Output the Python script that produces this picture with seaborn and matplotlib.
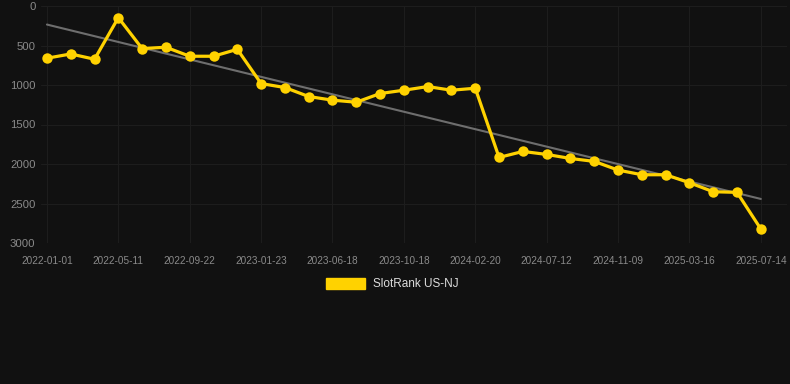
import numpy as np
import pandas as pd
import seaborn as sns
import matplotlib.pyplot as plt
from matplotlib.patches import Patch

# rank values (lower on chart = larger rank)
ranks = [661, 607, 674, 147, 539, 522, 636, 636, 548, 982,
         1032, 1146, 1192, 1218, 1108, 1066, 1020, 1066, 1041, 1917,
         1841, 1879, 1930, 1967, 2077, 2136, 2136, 2237, 2351, 2359,
         2823]
tick_labels = ['2022-01-01', '2022-05-11', '2022-09-22', '2023-01-23', '2023-06-18',
               '2023-10-18', '2024-02-20', '2024-07-12', '2024-11-09', '2025-03-16',
               '2025-07-14']
series_name = 'SlotRank US-NJ'

df = pd.DataFrame({'idx': np.arange(len(ranks)), 'rank': ranks})

sns.set_style('dark')
plt.rcParams['font.family'] = ['Liberation Sans', 'DejaVu Sans']

bg = '#111111'
gold = '#ffd200'

fig = plt.figure(figsize=(7.9, 3.84), dpi=100, facecolor=bg)
ax = fig.add_axes([41 / 790, 1 - 243 / 384, 746 / 790, 237 / 384])
ax.set_facecolor(bg)

# trend line
k, b = np.polyfit(df['idx'], df['rank'], 1)
ax.plot(df['idx'], k * df['idx'] + b, color='#6e6e6e', lw=1.5, zorder=2)

sns.lineplot(data=df, x='idx', y='rank', ax=ax, color=gold, lw=2.3,
             marker='o', markersize=7.5, markeredgewidth=0, zorder=3)

ax.set_ylim(3000, 0)
ax.set_xlim(-0.25, 31.1)
ax.set_yticks([0, 500, 1000, 1500, 2000, 2500, 3000])
ax.set_xticks(np.arange(0, len(ranks), 3))
ax.set_xticklabels(tick_labels)
ax.tick_params(axis='y', labelsize=8.2, colors='#8a8a8a', length=0, pad=4)
ax.tick_params(axis='x', labelsize=7.2, colors='#8a8a8a', length=0, pad=9)
ax.grid(True, color='#1d1d1d', lw=0.8)
for s in ax.spines.values():
    s.set_visible(False)
ax.set_xlabel('')
ax.set_ylabel('')

fig.legend(handles=[Patch(facecolor=gold, edgecolor=gold, label=series_name)],
           loc='center', bbox_to_anchor=(392 / 790, 1 - 284 / 384), frameon=False,
           handlelength=3.3, handleheight=1.1, handletextpad=0.7,
           fontsize=8.5, labelcolor='#dddddd')

plt.savefig('out.png', dpi=100, facecolor=bg)
